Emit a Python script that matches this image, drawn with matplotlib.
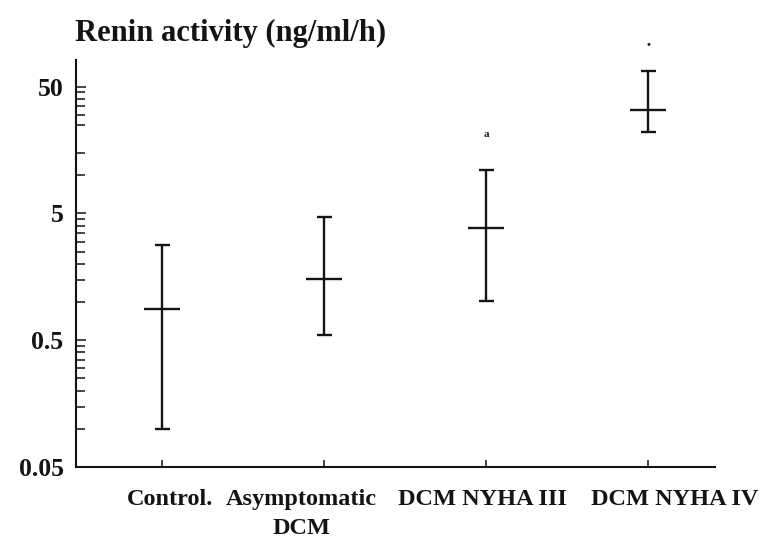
import numpy as np
import matplotlib
matplotlib.use("Agg")
import matplotlib.pyplot as plt
from matplotlib.transforms import ScaledTranslation

# Groups and renin activity summary (ng/ml/h): centre value with lower/upper limits
groups = ["Control.", "Asymptomatic\nDCM", "DCM NYHA III", "DCM NYHA IV"]
centre = [0.88, 1.51, 3.84, 32.5]
lower = [0.10, 0.55, 1.02, 22.0]
upper = [2.82, 4.66, 10.9, 66.7]

# significance marks above groups (group index, text, value)
mark_group = [2, 3]
mark_text = ["a", "\u2022"]
mark_value = [20.8, 108.0]

ytick_values = [0.05, 0.5, 5, 50]
ytick_labels = ["0.05", "0.5", "5", "50"]

FONT = "Liberation Serif"
INK = "#141414"

fig = plt.figure(figsize=(7.71, 5.45), dpi=100)
ax = fig.add_axes([0.0986, 0.1431, 0.8288, 0.7468])

x = np.arange(len(groups))
c = np.array(centre)
lo = np.array(lower)
hi = np.array(upper)

ax.errorbar(x, c, yerr=[c - lo, hi - c], fmt="none", ecolor=INK,
            elinewidth=1.7, capsize=5.4, capthick=1.7)
ax.plot(x, c, linestyle="none", marker="_", markersize=26,
        markeredgewidth=1.7, color=INK)

ax.set_yscale("log")
ax.set_ylim(0.05, 81)
ax.set_xlim(-0.527, 3.41)

ax.set_yticks(ytick_values)
ax.set_yticklabels(ytick_labels, fontfamily=FONT, fontweight="bold", fontsize=18.5)
minor = [0.05 * k * 10 ** n for n in range(3) for k in range(2, 10)]
minor = [m for m in minor if m < 81 and not np.isclose(m, 20)]
ax.set_yticks(minor, minor=True)
ax.yaxis.set_minor_formatter(matplotlib.ticker.NullFormatter())

ax.set_xticks(x)
ax.set_xticklabels([])

ax.tick_params(axis="y", which="major", direction="in", length=7, width=1.1,
               pad=9, color=INK, labelcolor=INK)
ax.tick_params(axis="y", which="minor", direction="in", length=6.5, width=1.1,
               color=INK)
ax.tick_params(axis="x", which="major", direction="in", length=5, width=1.1,
               color=INK)

for side in ("top", "right"):
    ax.spines[side].set_visible(False)
for side in ("left", "bottom"):
    ax.spines[side].set_linewidth(1.5)
    ax.spines[side].set_color(INK)

# category labels, nudged horizontally (points)
label_shift = [6, -16, -3, 19]
for xi, name, dx in zip(x, groups, label_shift):
    off = ScaledTranslation(dx / 72, 0, fig.dpi_scale_trans)
    ax.text(xi, -0.055, name, transform=ax.get_xaxis_transform() + off,
            ha="center", va="top", fontfamily=FONT, fontweight="bold",
            fontsize=17.5, color=INK, linespacing=1.45, multialignment="center")

for g, t, v in zip(mark_group, mark_text, mark_value):
    ax.text(x[g], v, t, ha="center", va="center", fontfamily=FONT,
            fontweight="bold", fontsize=8, color=INK, clip_on=False)

fig.text(0.0973, 0.938, "Renin activity (ng/ml/h)", ha="left", va="center",
         fontfamily=FONT, fontweight="bold", fontsize=22, color=INK)

fig.savefig("out.png", dpi=100, facecolor="white")
